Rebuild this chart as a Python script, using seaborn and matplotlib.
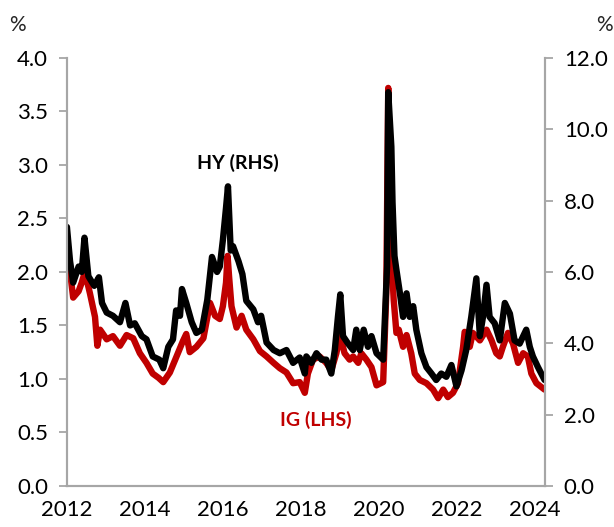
import numpy as np
import pandas as pd
import matplotlib
matplotlib.use("Agg")
import matplotlib.pyplot as plt
import seaborn as sns

# -------------------------------------------------
# Data (year as decimal)
# -------------------------------------------------
ig_years = [2012.0, 2012.08, 2012.16, 2012.3, 2012.38, 2012.46, 2012.59, 2012.72, 2012.78, 2012.85,
            2013.02, 2013.18, 2013.36, 2013.53, 2013.7, 2013.87, 2014.04, 2014.2, 2014.35, 2014.47,
            2014.64, 2014.8, 2014.97, 2015.06, 2015.15, 2015.32, 2015.5, 2015.67, 2015.8, 2015.92,
            2016.0, 2016.08, 2016.12, 2016.16, 2016.22, 2016.35, 2016.48, 2016.6, 2016.78, 2016.95,
            2017.12, 2017.3, 2017.46, 2017.63, 2017.8, 2017.97, 2018.1, 2018.18, 2018.31, 2018.48,
            2018.65, 2018.78, 2018.91, 2019.0, 2019.12, 2019.25, 2019.34, 2019.47, 2019.55, 2019.68,
            2019.81, 2019.94, 2020.11, 2020.19, 2020.24, 2020.3, 2020.38, 2020.45, 2020.51, 2020.62,
            2020.71, 2020.83, 2020.92, 2021.05, 2021.22, 2021.39, 2021.52, 2021.65, 2021.77, 2021.9,
            2022.03, 2022.16, 2022.2, 2022.33, 2022.41, 2022.59, 2022.76, 2022.89, 2023.01, 2023.1,
            2023.18, 2023.31, 2023.44, 2023.57, 2023.7, 2023.82, 2023.91, 2024.04, 2024.25]
ig_lhs = [2.30, 2.00, 1.76, 1.82, 1.90, 2.00, 1.80, 1.58, 1.31, 1.46,
          1.37, 1.40, 1.31, 1.41, 1.38, 1.24, 1.15, 1.05, 1.01, 0.97,
          1.06, 1.20, 1.35, 1.42, 1.25, 1.30, 1.38, 1.71, 1.59, 1.56,
          1.68, 1.90, 2.15, 1.95, 1.68, 1.48, 1.59, 1.46, 1.37, 1.26,
          1.21, 1.15, 1.10, 1.06, 0.96, 0.97, 0.87, 1.05, 1.18, 1.21,
          1.15, 1.08, 1.24, 1.41, 1.24, 1.18, 1.21, 1.15, 1.24, 1.18,
          1.11, 0.94, 0.97, 1.80, 3.72, 2.30, 1.74, 1.43, 1.46, 1.30,
          1.41, 1.24, 1.05, 0.99, 0.96, 0.90, 0.82, 0.90, 0.83, 0.87,
          0.96, 1.30, 1.44, 1.30, 1.43, 1.36, 1.46, 1.36, 1.24, 1.21,
          1.30, 1.43, 1.33, 1.15, 1.24, 1.21, 1.05, 0.96, 0.90]

hy_years = [2012.0, 2012.08, 2012.16, 2012.3, 2012.38, 2012.45, 2012.55, 2012.7, 2012.82, 2012.9,
            2013.02, 2013.18, 2013.36, 2013.5, 2013.62, 2013.74, 2013.92, 2014.04, 2014.2, 2014.37,
            2014.47, 2014.6, 2014.72, 2014.8, 2014.9, 2014.95, 2015.06, 2015.2, 2015.32, 2015.46,
            2015.6, 2015.72, 2015.85, 2015.92, 2016.0, 2016.08, 2016.13, 2016.2, 2016.26, 2016.4,
            2016.5, 2016.6, 2016.78, 2016.9, 2016.98, 2017.12, 2017.3, 2017.46, 2017.63, 2017.8,
            2017.97, 2018.1, 2018.14, 2018.27, 2018.4, 2018.53, 2018.65, 2018.78, 2018.87, 2018.95,
            2019.01, 2019.08, 2019.21, 2019.34, 2019.42, 2019.51, 2019.61, 2019.72, 2019.81, 2019.94,
            2020.11, 2020.21, 2020.24, 2020.32, 2020.35, 2020.4, 2020.45, 2020.54, 2020.62, 2020.71,
            2020.79, 2020.88, 2020.96, 2021.09, 2021.22, 2021.35, 2021.47, 2021.6, 2021.73, 2021.86,
            2021.99, 2022.12, 2022.24, 2022.37, 2022.5, 2022.59, 2022.67, 2022.76, 2022.84, 2022.97,
            2023.1, 2023.23, 2023.36, 2023.48, 2023.61, 2023.78, 2023.87, 2023.95, 2024.08, 2024.25]
hy_rhs = [7.26, 6.30, 5.70, 6.15, 6.00, 6.96, 5.88, 5.61, 5.85, 5.13,
          4.86, 4.77, 4.59, 5.13, 4.50, 4.56, 4.20, 4.11, 3.63, 3.54,
          3.30, 3.90, 4.11, 4.92, 4.77, 5.52, 5.13, 4.59, 4.29, 4.38,
          5.22, 6.42, 6.00, 6.15, 6.90, 7.80, 8.40, 6.60, 6.72, 6.30,
          5.94, 5.19, 4.95, 4.59, 4.77, 4.02, 3.81, 3.72, 3.81, 3.45,
          3.60, 3.15, 3.63, 3.45, 3.72, 3.54, 3.54, 3.15, 3.81, 4.74,
          5.37, 4.20, 3.99, 3.81, 4.38, 3.81, 4.38, 3.90, 4.20, 3.72,
          3.54, 6.15, 11.04, 9.51, 7.95, 6.45, 6.06, 5.40, 4.74, 5.40,
          4.74, 5.04, 4.38, 3.72, 3.33, 3.15, 2.97, 3.15, 3.06, 3.39,
          2.79, 3.24, 3.81, 4.74, 5.82, 4.20, 4.74, 5.64, 4.74, 4.56,
          4.08, 5.13, 4.83, 4.08, 3.99, 4.38, 3.90, 3.63, 3.33, 2.97]

assert len(ig_years) == len(ig_lhs)
assert len(hy_years) == len(hy_rhs)

ig_df = pd.DataFrame({"year": ig_years, "value": ig_lhs})
hy_df = pd.DataFrame({"year": hy_years, "value": hy_rhs})

# -------------------------------------------------
# Style
# -------------------------------------------------
sns.set_style("white")
plt.rcParams["font.family"] = ["Lato", "DejaVu Sans"]

RED = "#C00000"
GREY = "#A6A6A6"

fig = plt.figure(figsize=(6.14, 5.27), dpi=100)
ax = fig.add_axes([0.109, 0.078, 0.7786, 0.812])
ax2 = ax.twinx()

line_kw = dict(linewidth=4.6, solid_joinstyle="round", solid_capstyle="round")
sns.lineplot(data=ig_df, x="year", y="value", ax=ax, color=RED, **line_kw)
sns.lineplot(data=hy_df, x="year", y="value", ax=ax2, color="black", **line_kw)

ax.set_xlim(2012.0, 2024.26)
ax.set_ylim(0, 4.0)
ax2.set_ylim(0, 12.0)

ax.set_yticks(np.arange(0, 4.01, 0.5))
ax.set_yticklabels([f"{v:.1f}" for v in np.arange(0, 4.01, 0.5)])
ax2.set_yticks(np.arange(0, 12.01, 2.0))
ax2.set_yticklabels([f"{v:.1f}" for v in np.arange(0, 12.01, 2.0)])

ax.set_xticks(np.arange(2012, 2025, 2))
ax.set_xticklabels([str(y) for y in range(2012, 2025, 2)])
ax.set_xticks(np.arange(2012.5, 2024.3, 0.5), minor=True)

for a in (ax, ax2):
    a.set_xlabel("")
    a.set_ylabel("")
    a.spines["top"].set_visible(False)
    for s in ("left", "right", "bottom"):
        a.spines[s].set_color(GREY)
        a.spines[s].set_linewidth(1.5)

ax.tick_params(axis="both", which="both", direction="out", color=GREY,
               width=1.3, length=5.5, labelsize=16, labelcolor="black")
ax.tick_params(axis="y", pad=8)
ax.tick_params(axis="x", pad=5)
ax2.tick_params(axis="y", direction="out", color=GREY, width=1.3, length=5.5,
                labelsize=16, labelcolor="black", pad=8)

ax.text(2016.38, 3.02, "HY (RHS)", color="black", fontsize=14,
        fontweight="bold", ha="center", va="center")
ax.text(2018.38, 0.615, "IG (LHS)", color=RED, fontsize=14,
        fontweight="bold", ha="center", va="center")

fig.text(17 / 614, 1 - 25 / 527, "%", fontsize=15, ha="center", va="center")
fig.text(604 / 614, 1 - 25 / 527, "%", fontsize=15, ha="center", va="center")

fig.savefig("out.png", dpi=100)
